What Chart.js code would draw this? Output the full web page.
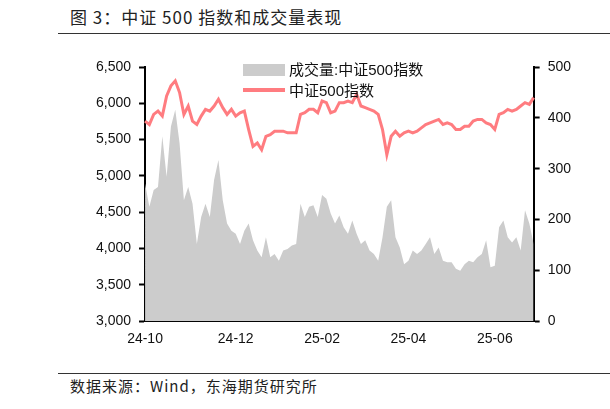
<!DOCTYPE html>
<html><head><meta charset="utf-8">
<script src="https://cdn.jsdelivr.net/npm/chart.js@4"></script>
<style>
body{margin:0;width:610px;height:409px;background:#fff;position:relative;overflow:hidden;font-family:"Noto Sans CJK SC",sans-serif}
#title{position:absolute;left:70px;top:4px;font-size:17px;color:#222;letter-spacing:1px}
#tl{position:absolute;left:58px;right:0;top:33px;border-top:1px solid #333}
#fl{position:absolute;left:58px;right:0;top:373px;border-top:1px solid #333}
#foot{position:absolute;left:70px;top:375px;font-size:15px;color:#222;letter-spacing:1px}
#wrap{position:absolute;left:40px;top:48px;width:570px;height:310px}
.lg{position:absolute;font-family:"Liberation Sans","Noto Sans CJK SC",sans-serif;font-size:15px;color:#111}
</style></head><body>
<div id="title">图 3：中证 500 指数和成交量表现</div>
<div id="tl"></div>
<div id="wrap"><canvas id="c"></canvas></div>
<div style="position:absolute;left:243px;top:64px;width:42px;height:12px;background:#cccccc"></div>
<div class="lg" style="left:289px;top:58px">成交量:中证500指数</div>
<div style="position:absolute;left:243px;top:88px;width:42px;height:4px;background:#ff7c80"></div>
<div class="lg" style="left:289px;top:79px">中证500指数</div>
<div id="fl"></div>
<div id="foot">数据来源：Wind，东海期货研究所</div>
<script>
const indexValues=[5755,5708,5847,5893,5824,6102,6241,6310,6148,5847,5963,5755,5708,5824,5917,5893,5963,6056,5940,5847,5917,5824,5870,5893,5639,5407,5454,5361,5546,5569,5616,5616,5616,5593,5593,5593,5847,5870,5917,5917,5870,6032,6009,5870,5893,6009,6009,6032,6009,6125,5963,5940,5917,5893,5847,5639,5292,5546,5616,5546,5593,5616,5593,5616,5662,5708,5731,5755,5778,5708,5731,5708,5639,5639,5685,5685,5755,5778,5778,5731,5708,5639,5847,5870,5917,5893,5917,5963,6009,5986,6079];
const volumeValues=[271,225,258,264,364,284,383,416,350,238,264,231,152,205,231,205,278,317,238,192,178,172,152,178,192,159,139,126,165,126,132,119,139,142,149,152,231,205,225,228,205,248,241,212,192,208,185,172,198,172,152,159,139,132,119,165,225,238,165,145,112,119,139,132,139,152,165,132,145,119,116,116,103,99,112,119,116,126,132,159,106,109,185,198,165,155,165,139,218,192,152];
const monthTicks={0:'24-10',21:'24-12',41:'25-02',61:'25-04',81:'25-06'};
const categories=indexValues.map((v,i)=>monthTicks[i]||'');
const tf={family:"Liberation Sans",size:14};
new Chart(document.getElementById('c'),{
 data:{labels:categories,datasets:[
  {type:'line',data:indexValues,yAxisID:'y',borderColor:'#ff7c80',borderWidth:3,pointRadius:0,tension:0,order:0},
  {type:'line',data:volumeValues,yAxisID:'y1',borderWidth:0,backgroundColor:'#cccccc',fill:'origin',pointRadius:0,tension:0,order:1}
 ]},
 options:{responsive:true,maintainAspectRatio:false,animation:false,
  layout:{padding:{left:48,right:31,top:19,bottom:0}},
  plugins:{legend:{display:false},tooltip:{enabled:false}},
  scales:{
   x:{offset:false,grid:{display:false,drawTicks:false},border:{color:'#000',width:2},
      ticks:{autoSkip:false,maxRotation:0,color:'#111',font:tf,padding:10}},
   y:{position:'left',min:3000,max:6500,grid:{display:true,drawOnChartArea:false,tickLength:6,color:'#000',tickWidth:2},border:{color:'#000',width:2},
      ticks:{stepSize:500,color:'#111',font:tf,padding:8,callback:v=>v.toLocaleString('en-US')}},
   y1:{position:'right',min:0,max:500,grid:{display:true,drawOnChartArea:false,tickLength:6,color:'#000',tickWidth:2},border:{color:'#000',width:2},
      ticks:{stepSize:100,color:'#111',font:tf,padding:8}}
  }}
});
</script></body></html>
